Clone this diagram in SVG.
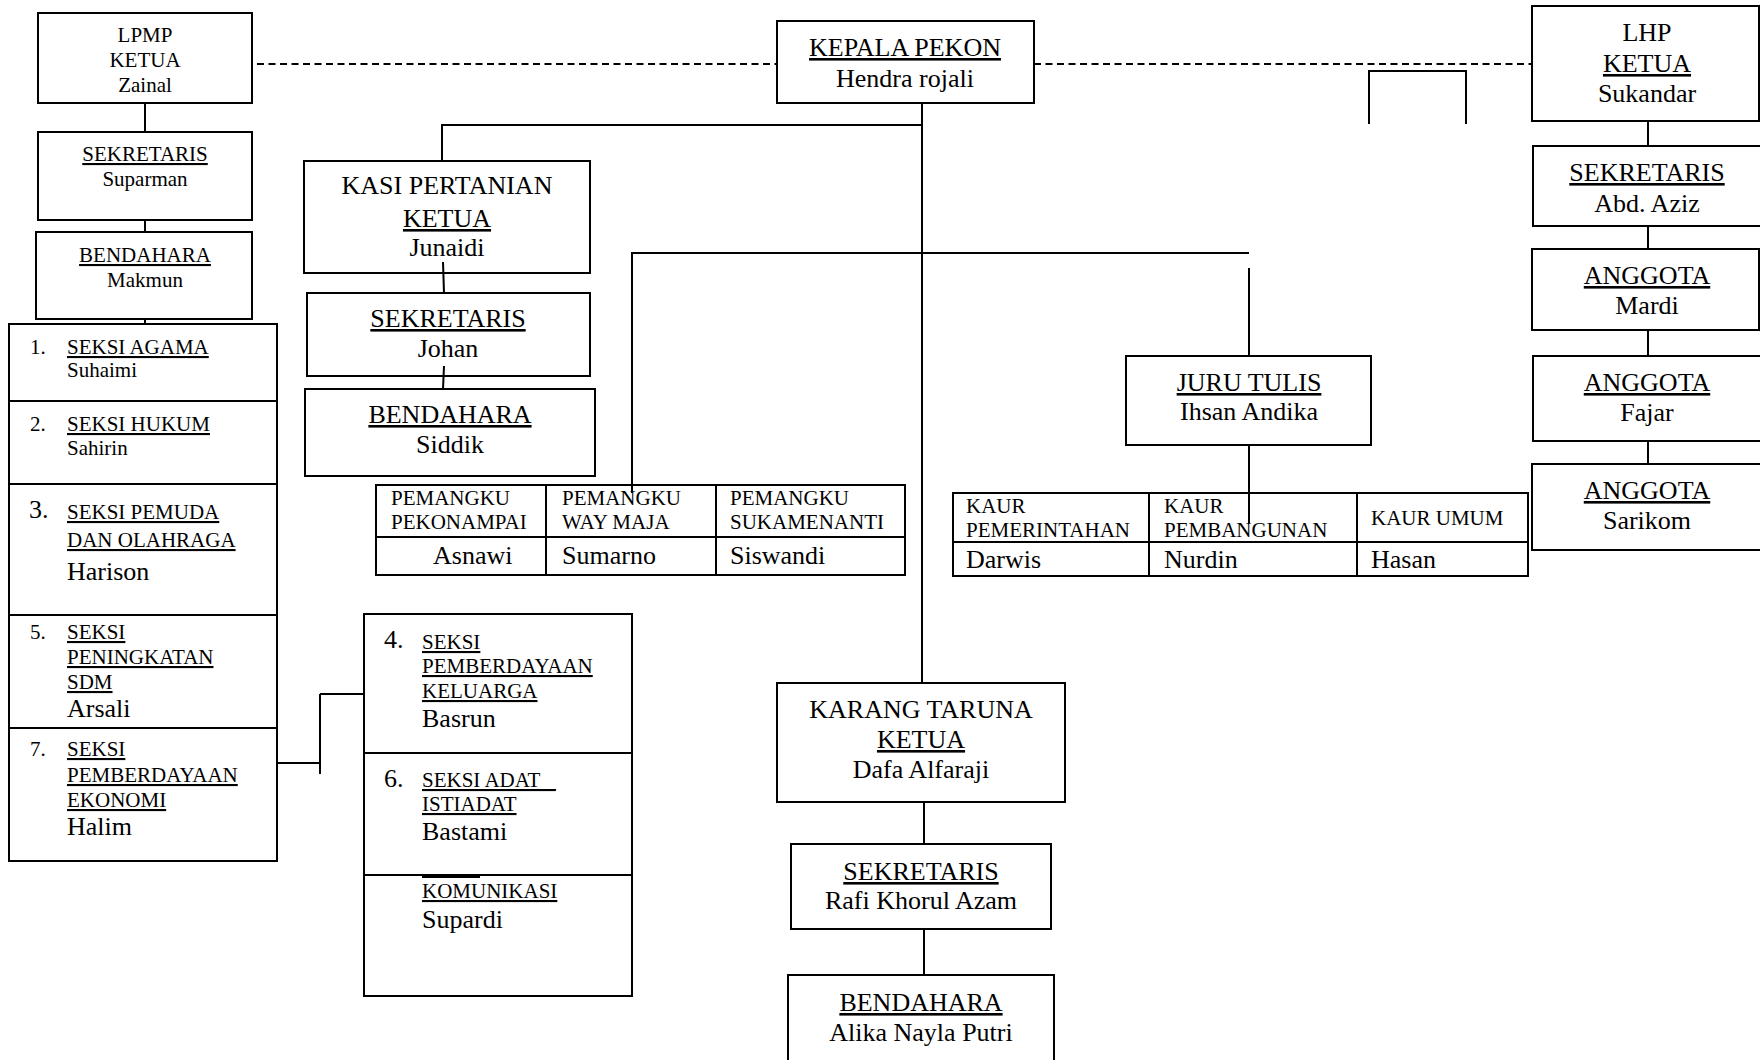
<svg xmlns="http://www.w3.org/2000/svg" width="1760" height="1060" viewBox="0 0 1760 1060">
<style>
rect{fill:none;stroke:#000;stroke-width:2}
line,polyline{fill:none;stroke:#000;stroke-width:2}
.d{stroke-dasharray:7 4.5}
text{font-family:"Liberation Serif","Times New Roman",serif;fill:#000}
.s{font-size:21px}
.b{font-size:26px}
.c{text-anchor:middle}
.u{text-decoration:underline}
</style>
<rect x="0" y="0" width="1760" height="1060" style="fill:#fff;stroke:none"/>
<g id="connectors">
<line class="d" x1="257" y1="64" x2="777" y2="64"/>
<line class="d" x1="1034" y1="64" x2="1531" y2="64"/>
<line x1="145" y1="103" x2="145" y2="132"/>
<line x1="145" y1="220" x2="145" y2="232"/>
<line x1="145" y1="319" x2="145" y2="324"/>
<polyline points="277,763 320,763"/>
<line x1="320" y1="694" x2="320" y2="774"/>
<line x1="320" y1="694" x2="364" y2="694"/>
<line x1="922" y1="103" x2="922" y2="683"/>
<polyline points="442,161 442,125 922,125"/>
<line x1="443" y1="262" x2="444" y2="293"/>
<line x1="444" y1="366" x2="443" y2="389"/>
<polyline points="632,493 632,253 1249,253"/>
<line x1="1249" y1="268" x2="1249" y2="356"/>
<line x1="1249" y1="445" x2="1249" y2="523"/>
<line x1="924" y1="802" x2="924" y2="844"/>
<line x1="924" y1="929" x2="924" y2="975"/>
<polyline points="1369,124 1369,71 1466,71 1466,124"/>
<line x1="1648" y1="121" x2="1648" y2="146"/>
<line x1="1648" y1="226" x2="1648" y2="249"/>
<line x1="1648" y1="330" x2="1648" y2="356"/>
<line x1="1648" y1="441" x2="1648" y2="464"/>
</g>
<g id="lpmp">
<rect x="38" y="13" width="214" height="90"/>
<text class="s c" x="145" y="42">LPMP</text>
<text class="s c" x="145" y="67">KETUA</text>
<text class="s c" x="145" y="92">Zainal</text>
</g>
<g id="lpmp-sekretaris">
<rect x="38" y="132" width="214" height="88"/>
<text class="s c u" x="145" y="161">SEKRETARIS</text>
<text class="s c" x="145" y="186">Suparman</text>
</g>
<g id="lpmp-bendahara">
<rect x="36" y="232" width="216" height="87"/>
<text class="s c u" x="145" y="262">BENDAHARA</text>
<text class="s c" x="145" y="287">Makmun</text>
</g>
<g id="seksi-kiri">
<rect x="9" y="324" width="268" height="537"/>
<line x1="9" y1="401" x2="277" y2="401"/>
<line x1="9" y1="484" x2="277" y2="484"/>
<line x1="9" y1="615" x2="277" y2="615"/>
<line x1="9" y1="728" x2="277" y2="728"/>
<text class="s" x="30" y="354">1.</text>
<text class="s u" x="67" y="354">SEKSI AGAMA</text>
<text class="s" x="67" y="377">Suhaimi</text>
<text class="s" x="30" y="431">2.</text>
<text class="s u" x="67" y="431">SEKSI HUKUM</text>
<text class="s" x="67" y="455">Sahirin</text>
<text class="b" x="29" y="518">3.</text>
<text class="s u" x="67" y="519">SEKSI PEMUDA</text>
<text class="s u" x="67" y="547">DAN OLAHRAGA</text>
<text class="b" x="67" y="580">Harison</text>
<text class="s" x="30" y="639">5.</text>
<text class="s u" x="67" y="639">SEKSI</text>
<text class="s u" x="67" y="664">PENINGKATAN</text>
<text class="s u" x="67" y="689">SDM</text>
<text class="b" x="67" y="717">Arsali</text>
<text class="s" x="30" y="756">7.</text>
<text class="s u" x="67" y="756">SEKSI</text>
<text class="s u" x="67" y="782">PEMBERDAYAAN</text>
<text class="s u" x="67" y="807">EKONOMI</text>
<text class="b" x="67" y="835">Halim</text>
</g>
<g id="seksi-kanan">
<rect x="364" y="614" width="268" height="382"/>
<line x1="364" y1="753" x2="632" y2="753"/>
<line x1="364" y1="875" x2="632" y2="875"/>
<text class="b" x="384" y="648">4.</text>
<text class="s u" x="422" y="649">SEKSI</text>
<text class="s u" x="422" y="673">PEMBERDAYAAN</text>
<text class="s u" x="422" y="698">KELUARGA</text>
<text class="b" x="422" y="727">Basrun</text>
<text class="b" x="384" y="787">6.</text>
<text class="s u" x="422" y="787">SEKSI ADAT _</text>
<text class="s u" x="422" y="811">ISTIADAT</text>
<text class="b" x="422" y="840">Bastami</text>
<line x1="422" y1="877" x2="480" y2="877"/>
<text class="s u" x="422" y="898">KOMUNIKASI</text>
<text class="b" x="422" y="928">Supardi</text>
</g>
<g id="kepala-pekon">
<rect x="777" y="21" width="257" height="82"/>
<text class="b c u" x="905" y="56">KEPALA PEKON</text>
<text class="b c" x="905" y="87">Hendra rojali</text>
</g>
<g id="kasi-pertanian">
<rect x="304" y="161" width="286" height="112"/>
<text class="b c" x="447" y="194">KASI PERTANIAN</text>
<text class="b c u" x="447" y="227">KETUA</text>
<text class="b c" x="447" y="256">Junaidi</text>
</g>
<g id="kasi-sekretaris">
<rect x="307" y="293" width="283" height="83"/>
<text class="b c u" x="448" y="327">SEKRETARIS</text>
<text class="b c" x="448" y="357">Johan</text>
</g>
<g id="kasi-bendahara">
<rect x="305" y="389" width="290" height="87"/>
<text class="b c u" x="450" y="423">BENDAHARA</text>
<text class="b c" x="450" y="453">Siddik</text>
</g>
<g id="pemangku">
<rect x="376" y="485" width="529" height="90"/>
<line x1="376" y1="537" x2="905" y2="537"/>
<line x1="546" y1="485" x2="546" y2="575"/>
<line x1="716" y1="485" x2="716" y2="575"/>
<text class="s" x="391" y="505">PEMANGKU</text>
<text class="s" x="391" y="529">PEKONAMPAI</text>
<text class="s" x="562" y="505">PEMANGKU</text>
<text class="s" x="562" y="529">WAY MAJA</text>
<text class="s" x="730" y="505">PEMANGKU</text>
<text class="s" x="730" y="529">SUKAMENANTI</text>
<text class="b" x="433" y="564">Asnawi</text>
<text class="b" x="562" y="564">Sumarno</text>
<text class="b" x="730" y="564">Siswandi</text>
</g>
<g id="juru-tulis">
<rect x="1126" y="356" width="245" height="89"/>
<text class="b c u" x="1249" y="391">JURU TULIS</text>
<text class="b c" x="1249" y="420">Ihsan Andika</text>
</g>
<g id="kaur">
<rect x="953" y="493" width="575" height="83"/>
<line x1="953" y1="542" x2="1528" y2="542"/>
<line x1="1149" y1="493" x2="1149" y2="576"/>
<line x1="1357" y1="493" x2="1357" y2="576"/>
<text class="s" x="966" y="513">KAUR</text>
<text class="s" x="966" y="537">PEMERINTAHAN</text>
<text class="s" x="1164" y="513">KAUR</text>
<text class="s" x="1164" y="537">PEMBANGUNAN</text>
<text class="s" x="1371" y="525">KAUR UMUM</text>
<text class="b" x="966" y="568">Darwis</text>
<text class="b" x="1164" y="568">Nurdin</text>
<text class="b" x="1371" y="568">Hasan</text>
</g>
<g id="karang-taruna">
<rect x="777" y="683" width="288" height="119"/>
<text class="b c" x="921" y="718">KARANG TARUNA</text>
<text class="b c u" x="921" y="748">KETUA</text>
<text class="b c" x="921" y="778">Dafa Alfaraji</text>
</g>
<g id="kt-sekretaris">
<rect x="791" y="844" width="260" height="85"/>
<text class="b c u" x="921" y="880">SEKRETARIS</text>
<text class="b c" x="921" y="909">Rafi Khorul Azam</text>
</g>
<g id="kt-bendahara">
<rect x="788" y="975" width="266" height="100"/>
<text class="b c u" x="921" y="1011">BENDAHARA</text>
<text class="b c" x="921" y="1041">Alika Nayla Putri</text>
</g>
<g id="lhp">
<rect x="1532" y="6" width="227" height="115"/>
<text class="b c" x="1647" y="41">LHP</text>
<text class="b c u" x="1647" y="72">KETUA</text>
<text class="b c" x="1647" y="102">Sukandar</text>
</g>
<g id="lhp-sekretaris">
<rect x="1533" y="146" width="240" height="80"/>
<text class="b c u" x="1647" y="181">SEKRETARIS</text>
<text class="b c" x="1647" y="212">Abd. Aziz</text>
</g>
<g id="anggota-mardi">
<rect x="1532" y="249" width="227" height="81"/>
<text class="b c u" x="1647" y="284">ANGGOTA</text>
<text class="b c" x="1647" y="314">Mardi</text>
</g>
<g id="anggota-fajar">
<rect x="1533" y="356" width="240" height="85"/>
<text class="b c u" x="1647" y="391">ANGGOTA</text>
<text class="b c" x="1647" y="421">Fajar</text>
</g>
<g id="anggota-sarikom">
<rect x="1532" y="464" width="240" height="86"/>
<text class="b c u" x="1647" y="499">ANGGOTA</text>
<text class="b c" x="1647" y="529">Sarikom</text>
</g>
</svg>
